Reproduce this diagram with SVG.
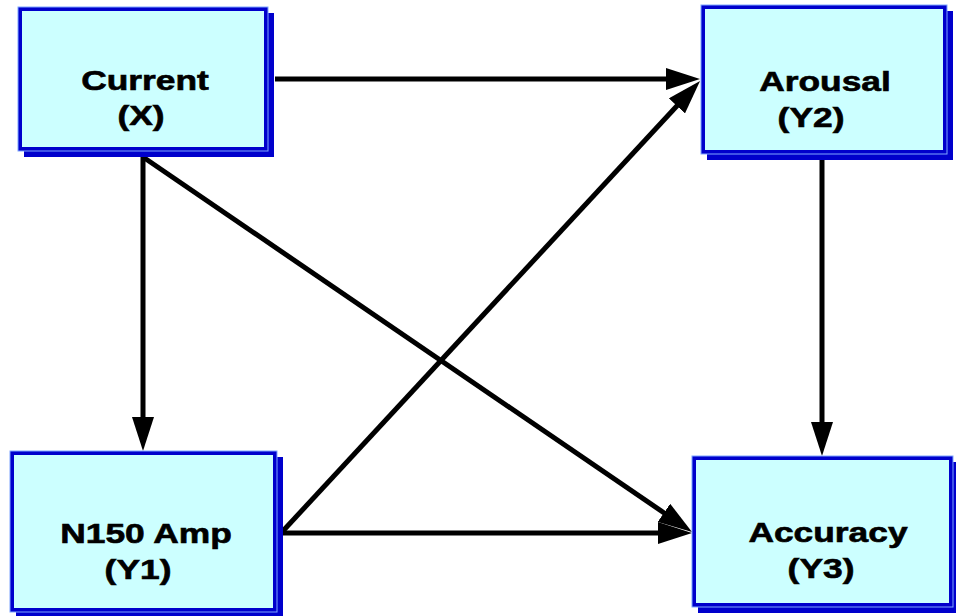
<svg xmlns="http://www.w3.org/2000/svg" width="956" height="616" viewBox="0 0 956 616">
  <style>
    .shadow { fill: #0000CC; }
    .box { fill: #CCFFFF; stroke: #0000CC; stroke-width: 4; }
    .edge { fill: none; stroke: #7FA6FF; stroke-width: 1; }
    .label { font-family: "Liberation Sans", Arial, sans-serif; font-weight: bold; font-size: 27px; fill: #000; stroke: #000; stroke-width: 0.6; text-anchor: middle; }
    .link { stroke: #000; stroke-width: 5; fill: none; marker-end: url(#head); }
  </style>
  <defs>
    <marker id="head" markerUnits="userSpaceOnUse" viewBox="0 0 34 22" refX="6" refY="11" markerWidth="34" markerHeight="22" orient="auto">
      <path d="M0,0 L34,11 L0,22 Z" fill="#000"/>
    </marker>
  </defs>
  <rect width="956" height="616" fill="#fff"/>

  <g id="connectors">
    <line class="link" x1="275" y1="79" x2="672" y2="79"/>
    <line class="link" x1="143" y1="157" x2="143" y2="423"/>
    <line class="link" x1="143" y1="157" x2="668.9" y2="516.2"/>
    <line class="link" x1="282" y1="532" x2="681" y2="101.5"/>
    <line class="link" x1="282" y1="533" x2="664" y2="533"/>
    <line class="link" x1="822" y1="160" x2="822" y2="428"/>
  </g>

  <g id="current">
    <rect class="shadow" x="24" y="13" width="250" height="144"/>
    <rect class="box" x="20" y="9" width="246" height="140"/>
    <rect class="edge" x="18" y="7" width="250" height="144"/>
    <text class="label" transform="translate(145,90) scale(1.31,1)">Current</text>
    <text class="label" transform="translate(141,125) scale(1.31,1)">(X)</text>
  </g>

  <g id="arousal">
    <rect class="shadow" x="707" y="11" width="246" height="149"/>
    <rect class="box" x="703" y="7" width="242" height="145"/>
    <rect class="edge" x="701" y="5" width="246" height="149"/>
    <text class="label" transform="translate(825,91) scale(1.31,1)">Arousal</text>
    <text class="label" transform="translate(811,127) scale(1.31,1)">(Y2)</text>
  </g>

  <g id="n150">
    <rect class="shadow" x="16" y="457" width="267" height="161"/>
    <rect class="box" x="12" y="453" width="263" height="157"/>
    <rect class="edge" x="10" y="451" width="267" height="161"/>
    <text class="label" transform="translate(146,543) scale(1.31,1)">N150 Amp</text>
    <text class="label" transform="translate(138,579) scale(1.31,1)">(Y1)</text>
  </g>

  <g id="accuracy">
    <rect class="shadow" x="698" y="462" width="261" height="151"/>
    <rect class="box" x="694" y="458" width="257" height="147"/>
    <rect class="edge" x="692" y="456" width="261" height="151"/>
    <text class="label" transform="translate(828,542) scale(1.31,1)">Accuracy</text>
    <text class="label" transform="translate(821,578) scale(1.31,1)">(Y3)</text>
  </g>
</svg>
